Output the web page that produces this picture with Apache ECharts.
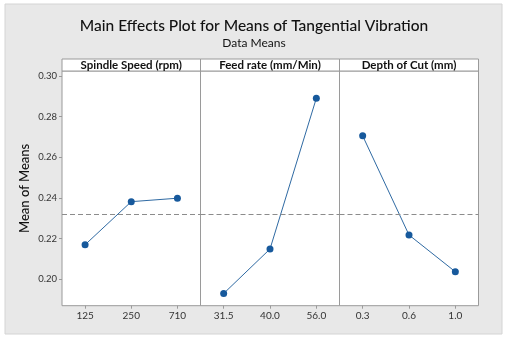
<!DOCTYPE html>
<html>
<head>
<meta charset="utf-8">
<script src="https://cdn.jsdelivr.net/npm/echarts@6/dist/echarts.min.js"></script>
<style>html,body{margin:0;padding:0;background:#fff;}#c{width:508px;height:338px;}</style>
</head>
<body>
<div id="c"></div>
<script>
// ---- data ----
const factorNames = ['Spindle Speed (rpm)', 'Feed rate (mm/Min)', 'Depth of Cut (mm)'];
const spindleLevels = ['125', '250', '710'];
const spindleMeans = [0.2170, 0.2382, 0.2399];
const feedLevels = ['31.5', '40.0', '56.0'];
const feedMeans = [0.1930, 0.2149, 0.2891];
const depthLevels = ['0.3', '0.6', '1.0'];
const depthMeans = [0.2706, 0.2218, 0.2037];
const grandMean = 0.2318;
const yTicks = [0.20, 0.22, 0.24, 0.26, 0.28, 0.30];

const levels = [spindleLevels, feedLevels, depthLevels];
const means = [spindleMeans, feedMeans, depthMeans];

// ---- layout ----
const panelLeft = [62, 200.5, 339.5];
const panelWidth = [138.5, 139, 139];
const plotTop = 71, plotHeight = 234.7, headTop = 59;
const FONT = 'Lato';

const chart = echarts.init(document.getElementById('c'), null, {renderer: 'canvas'});

const grids = [], xAxes = [], yAxes = [], series = [], graphics = [];

graphics.push({
  type: 'rect', z: -10, silent: true,
  shape: {x: 5, y: 4, width: 497, height: 330},
  style: {fill: '#e8e8e8', stroke: '#d4d4d4', lineWidth: 1}
});

for (let i = 0; i < 3; i++) {
  grids.push({
    left: panelLeft[i], top: plotTop, width: panelWidth[i], height: plotHeight,
    show: true, backgroundColor: '#ffffff', borderColor: '#9a9a9a', borderWidth: 1
  });
  xAxes.push({
    type: 'category', gridIndex: i, data: levels[i], boundaryGap: true,
    axisLine: {show: false},
    axisTick: {show: true, alignWithLabel: true, length: 3, lineStyle: {color: '#9a9a9a'}},
    axisLabel: {fontFamily: FONT, fontSize: 10, color: '#333', margin: 5}
  });
  yAxes.push({
    type: 'value', gridIndex: i, min: 0.187, max: 0.3025,
    splitLine: {show: false},
    axisLine: {show: false},
    axisTick: {show: i === 0, length: 3, lineStyle: {color: '#9a9a9a'}, customValues: yTicks},
    axisLabel: {show: i === 0, customValues: yTicks, fontFamily: FONT, fontSize: 9.5, color: '#333', margin: 5,
      formatter: v => v.toFixed(2)},
    name: i === 0 ? 'Mean of Means' : '',
    nameLocation: 'middle', nameGap: 31, nameRotate: 90,
    nameTextStyle: {fontFamily: FONT, fontSize: 13, fontWeight: 500, color: '#111'}
  });
  series.push({
    type: 'line', xAxisIndex: i, yAxisIndex: i, data: means[i],
    symbol: 'circle', symbolSize: 7, showSymbol: true,
    itemStyle: {color: '#17599c'},
    lineStyle: {color: '#2f6aa3', width: 1},
    animation: false,
    markLine: {
      silent: true, symbol: 'none', animation: false, precision: 6,
      label: {show: false},
      lineStyle: {color: '#8c8c8c', type: [5, 3], width: 1},
      data: [{yAxis: grandMean}]
    }
  });
  graphics.push({
    type: 'rect', silent: true,
    shape: {x: panelLeft[i], y: headTop, width: panelWidth[i], height: plotTop - headTop},
    style: {fill: '#ffffff', stroke: '#9a9a9a', lineWidth: 1}
  });
  graphics.push({
    type: 'text', silent: true,
    x: panelLeft[i] + panelWidth[i] / 2, y: headTop + (plotTop - headTop) / 2 + 0.5,
    style: {text: factorNames[i], fontFamily: FONT, fontSize: 11.5, fontWeight: 'bold', fill: '#111',
      align: 'center', verticalAlign: 'middle'}
  });
}

chart.setOption({
  animation: false,
  backgroundColor: '#ffffff',
  title: {
    text: 'Main Effects Plot for Means of Tangential Vibration',
    subtext: 'Data Means',
    left: 'center', top: 13, itemGap: 3,
    textStyle: {fontFamily: FONT, fontSize: 15.5, fontWeight: 500, color: '#111'},
    subtextStyle: {fontFamily: FONT, fontSize: 12, color: '#111'}
  },
  grid: grids, xAxis: xAxes, yAxis: yAxes, series: series,
  graphic: graphics
});
</script>
</body>
</html>
